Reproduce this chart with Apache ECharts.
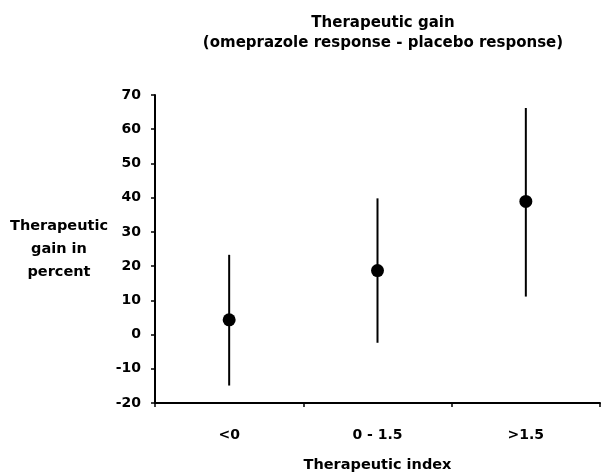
<!DOCTYPE html>
<html>
<head>
<meta charset="utf-8">
<script src="https://cdn.jsdelivr.net/npm/echarts@6/dist/echarts.min.js"></script>
<style>
  html, body { margin: 0; padding: 0; background: #fff; }
  #chart { width: 602px; height: 472px; }
</style>
</head>
<body>
<div id="chart"></div>
<script>
const categories = ['<0', '0 - 1.5', '>1.5']
const gain = [4.3, 18.7, 38.9]
const lower = [-14.9, -2.4, 11.1]
const upper = [23.3, 39.8, 66.2]

const font = 'DejaVu Sans'
const chart = echarts.init(document.getElementById('chart'))

const option = {
  backgroundColor: '#fff',
  animation: false,
  title: {
    text: 'Therapeutic gain\n(omeprazole response - placebo response)',
    left: 378,
    top: 8,
    textAlign: 'center',
    textStyle: { color: '#000', fontSize: 15, fontWeight: 'bold', fontFamily: font, lineHeight: 20 }
  },
  grid: { left: 155, right: 2, top: 95, bottom: 69, outerBoundsMode: 'none' },
  xAxis: {
    type: 'category',
    data: categories,
    boundaryGap: true,
    name: 'Therapeutic index',
    nameLocation: 'middle',
    nameGap: 55,
    nameTextStyle: { color: '#000', fontSize: 14.5, fontWeight: 'bold', fontFamily: font },
    axisLine: { onZero: false, lineStyle: { color: '#000', width: 2 } },
    axisTick: { show: true, length: 4, lineStyle: { color: '#000', width: 1.5 } },
    axisLabel: { color: '#000', fontSize: 14, fontWeight: 'bold', fontFamily: font, margin: 25 },
    splitLine: { show: false }
  },
  yAxis: {
    type: 'value',
    min: -20,
    max: 70,
    interval: 10,
    name: 'Therapeutic\ngain in\npercent',
    nameLocation: 'middle',
    nameRotate: 0,
    nameGap: 96,
    nameTextStyle: { color: '#000', fontSize: 14.5, fontWeight: 'bold', fontFamily: font, lineHeight: 23, align: 'center', verticalAlign: 'middle' },
    axisLine: { show: true, lineStyle: { color: '#000', width: 2 } },
    axisTick: { show: true, length: 4, lineStyle: { color: '#000', width: 1.5 } },
    axisLabel: { color: '#000', fontSize: 14, fontWeight: 'bold', fontFamily: font, margin: 14 },
    splitLine: { show: false }
  },
  series: [
    {
      type: 'custom',
      data: categories.map((c, i) => [i, lower[i], upper[i]]),
      renderItem: (params, api) => {
        const lo = api.coord([api.value(0), api.value(1)])
        const hi = api.coord([api.value(0), api.value(2)])
        return {
          type: 'line',
          shape: { x1: lo[0], y1: lo[1], x2: hi[0], y2: hi[1] },
          style: { stroke: '#000', lineWidth: 2 }
        }
      },
      z: 2
    },
    {
      type: 'scatter',
      data: gain,
      symbol: 'circle',
      symbolSize: 13,
      itemStyle: { color: '#000', opacity: 1 },
      z: 3
    }
  ]
}

chart.setOption(option)
</script>
</body>
</html>
